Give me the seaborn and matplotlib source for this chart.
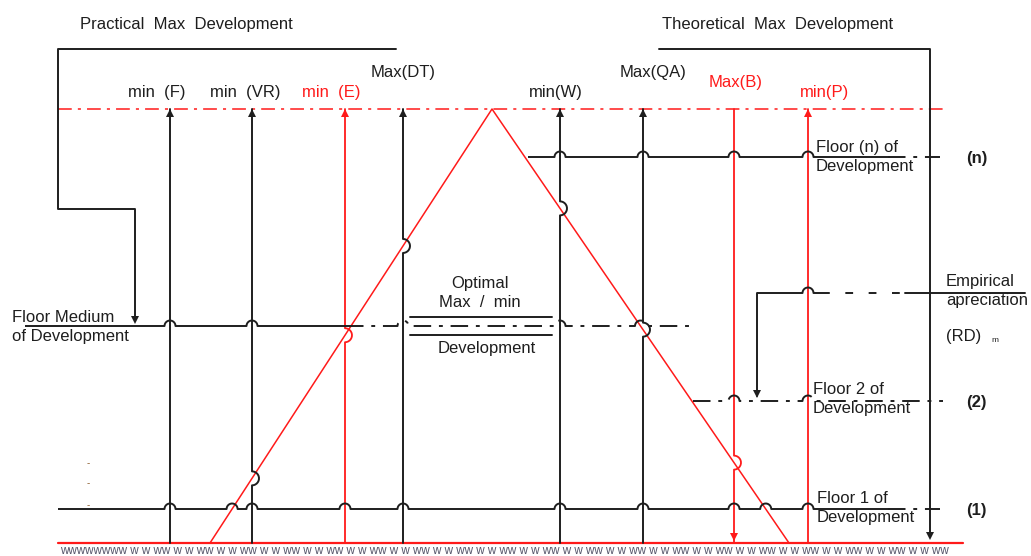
import numpy as np
import matplotlib
matplotlib.use("Agg")
import matplotlib.pyplot as plt
import seaborn as sns

# vertical requirement lines (x in picture pixels)
vert_labels = ["min  (F)", "min  (VR)", "min  (E)", "Max(DT)", "min(W)", "Max(QA)", "Max(B)", "min(P)"]
vert_x = [170, 252, 345, 403, 560, 643, 734, 808]
vert_red = [False, False, True, False, False, False, True, True]
label_x = [157, 245, 331, 403, 556, 653, 736, 825]
label_y = [92, 92, 92, 73, 92, 73, 83, 92]

# development triangle: left foot, apex, right foot
tri_x = [210, 492, 789]
tri_y = [543, 109, 543]

# floors
floor_names = ["Floor (n) of\nDevelopment", "Floor Medium\nof Development",
               "Floor 2 of\nDevelopment", "Floor 1 of\nDevelopment"]
floor_y = [157, 326, 401, 509]
floor_tags = ["(n)", "", "(2)", "(1)"]

top_y = 109
ground_y = 543

sns.set_theme(style="white")
plt.rcParams['font.family'] = ['Liberation Sans', 'DejaVu Sans']

fig = plt.figure(figsize=(10.31, 5.56), dpi=100)
ax = fig.add_axes([0, 0, 1, 1])
ax.set_xlim(0, 1031)
ax.set_ylim(556, 0)
ax.axis("off")

BLK = "#1e1e1e"
RED = "#ff1a1a"
LW = 1.4
FS = 12
DASHDOT = (0, (9, 4, 2, 4))
R = 5.5


def diag_x(y):
    # x of the left and right triangle side at height y
    return (np.interp(y, [tri_y[1], tri_y[0]], [tri_x[1], tri_x[0]]),
            np.interp(y, [tri_y[1], tri_y[2]], [tri_x[1], tri_x[2]]))


def hline(x0, x1, y, bumps, r=R, **kw):
    xs, ys = [x0], [y]
    last = -1e9
    for c in sorted(bumps):
        if c - r <= x0 or c + r >= x1 or c - last < 2 * r + 3:
            continue
        last = c
        th = np.linspace(np.pi, 0, 14)
        xs += list(c + r * np.cos(th))
        ys += list(y - r * np.sin(th))
    xs.append(x1)
    ys.append(y)
    ax.plot(xs, ys, solid_capstyle="butt", **kw)


def vline(x, y0, y1, bumps, r=7, **kw):
    xs, ys = [x], [y0]
    for c in sorted(bumps):
        th = np.linspace(0, np.pi, 14)
        xs += list(x + r * np.sin(th))
        ys += list(c - r * np.cos(th))
    xs.append(x)
    ys.append(y1)
    ax.plot(xs, ys, **kw)


# triangle
sns.lineplot(x=tri_x, y=tri_y, sort=False, estimator=None, color=RED, lw=1.1, ax=ax)

# top dash-dot limit and ground
ax.plot([58, 947], [top_y, top_y], color=RED, lw=1.1, linestyle=DASHDOT)
ax.plot([58, 963], [ground_y, ground_y], color=RED, lw=1.6)

# vertical lines with hops over the triangle
for lab, x, red, lx, ly in zip(vert_labels, vert_x, vert_red, label_x, label_y):
    col = RED if red else BLK
    hops = []
    if tri_x[0] < x < tri_x[2]:
        if x < tri_x[1]:
            hops.append(np.interp(x, [tri_x[0], tri_x[1]], [tri_y[0], tri_y[1]]))
        else:
            hops.append(np.interp(x, [tri_x[1], tri_x[2]], [tri_y[1], tri_y[2]]))
    vline(x, top_y, ground_y, hops, color=col, lw=LW if not red else 1.3)
    if lab == "Max(B)":
        ax.plot(x, ground_y - 6, marker="v", ms=6, color=col, mew=0)
    else:
        ax.plot(x, top_y + 4, marker="^", ms=6, color=col, mew=0)
    ax.text(lx, ly, lab, color=RED if red else BLK, fontsize=FS,
            ha="center", va="center")

# floor lines
bump_n = [x for x in vert_x if 528 < x < 890]
hline(528, 890, floor_y[0], bump_n, color=BLK, lw=LW)
hline(888, 940, floor_y[0], [], color=BLK, lw=LW, linestyle=DASHDOT)

lx, rx = diag_x(floor_y[1])
bump_m = [x for x in vert_x if x < 700] + [lx, rx]
hline(25, 346, floor_y[1], [x for x in bump_m if x < 346], color=BLK, lw=LW)
hline(346, 695, floor_y[1], [x for x in bump_m if x >= 340], color=BLK, lw=LW,
      linestyle=DASHDOT)

hline(693, 943, floor_y[2], [734, 808], color=BLK, lw=LW, linestyle=DASHDOT)

lx, rx = diag_x(floor_y[3])
bump_1 = vert_x + [lx, rx]
hline(58, 890, floor_y[3], bump_1, color=BLK, lw=LW)
hline(888, 940, floor_y[3], [], color=BLK, lw=LW, linestyle=DASHDOT)

# optimal max / min double line
ax.plot([410, 552], [317, 317], color=BLK, lw=LW)
ax.plot([410, 552], [335, 335], color=BLK, lw=LW)

# empirical appreciation line and arrow to floor 2
hline(757, 822, 293, [808], color=BLK, lw=LW)
ax.plot([822, 905], [293, 293], color=BLK, lw=LW, linestyle=(0, (4, 8)))
ax.plot([905, 1025], [293, 293], color=BLK, lw=LW)
ax.plot([757, 757], [293, 396], color=BLK, lw=LW)
ax.plot(757, 394, marker="v", ms=6, color=BLK, mew=0)

# practical max bracket
ax.plot([396, 58, 58, 135, 135], [49, 49, 209, 209, 320], color=BLK, lw=LW)
ax.plot(135, 320, marker="v", ms=6, color=BLK, mew=0)

# theoretical max bracket
ax.plot([659, 930, 930], [49, 49, 536], color=BLK, lw=LW)
ax.plot(930, 536, marker="v", ms=6, color=BLK, mew=0)

# texts
ax.text(80, 24, "Practical  Max  Development", fontsize=FS, color=BLK, va="center")
ax.text(662, 24, "Theoretical  Max  Development", fontsize=FS, color=BLK, va="center")

floor_lab_pos = [(816, 157), (12, 327), (813, 399), (817, 508)]
for name, (fx, fy) in zip(floor_names, floor_lab_pos):
    ax.text(fx, fy, name, fontsize=FS, color=BLK, va="center", linespacing=1.4)
for tag, fy in zip(floor_tags, floor_y):
    if tag:
        ax.text(966, fy + 2, tag, fontsize=FS, color=BLK, va="center", fontweight="bold")

ax.text(480, 293, "Optimal\nMax  /  min", fontsize=FS, color=BLK, ha="center",
        va="center", linespacing=1.4)
ax.text(487, 349, "Development", fontsize=FS, color=BLK, ha="center", va="center")

ax.text(946, 291, "Empirical\napreciation", fontsize=FS, color=BLK, va="center",
        linespacing=1.4)
ax.text(946, 337, "(RD)", fontsize=FS, color=BLK, va="center")
ax.text(991, 340, "m", fontsize=6, color=BLK, va="center")

for dy in [463, 483, 505]:
    ax.text(88, dy, "-", fontsize=7, color="#8a5a2a", ha="center", va="center")

ground_txt = "wwwwwwww" + " w w ww" * 19
ax.text(60, 551, ground_txt, fontsize=8.4, color="#55556a", va="center")

fig.savefig("out.png", dpi=100)
